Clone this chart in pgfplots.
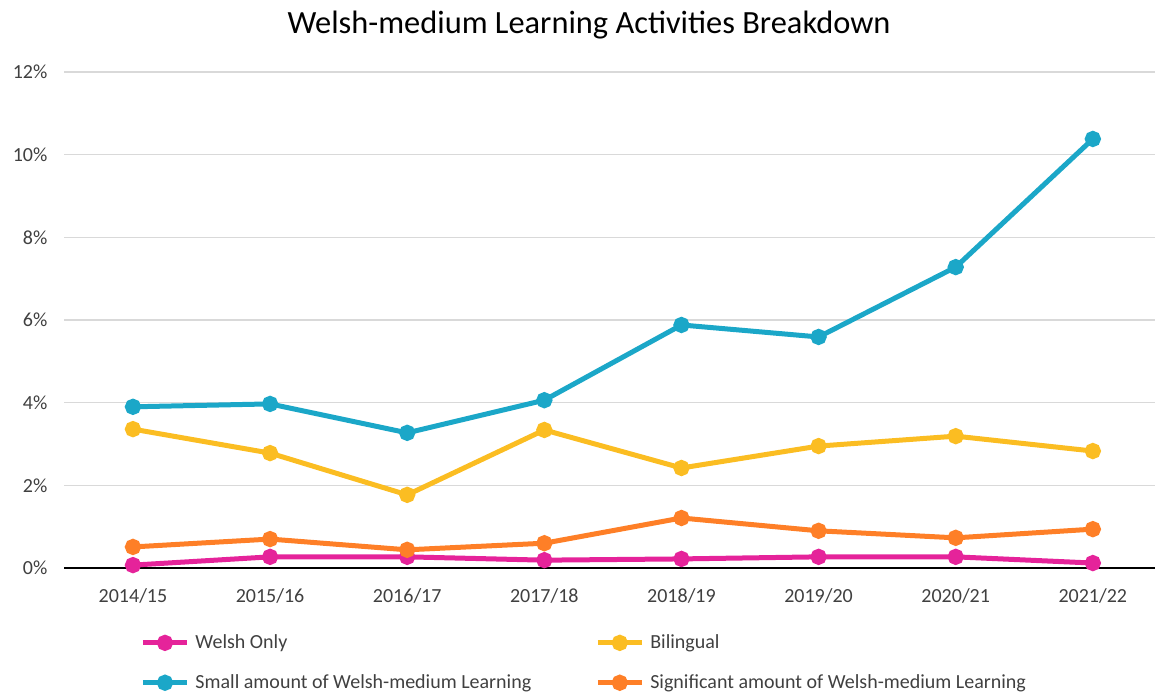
\documentclass[border=0pt]{standalone}
\usepackage{pgfplots}
\pgfplotsset{compat=1.18}
\usepackage{fontspec}
\setmainfont{Carlito}
\definecolor{cmag}{HTML}{E5239A}
\definecolor{cblue}{HTML}{1BA7C8}
\definecolor{cyel}{HTML}{FBBD22}
\definecolor{cora}{HTML}{FE7F27}
\definecolor{gridgray}{HTML}{D9D9D9}
\definecolor{txt}{HTML}{404040}
\begin{document}
\begin{tikzpicture}
\useasboundingbox (0,0) rectangle (577.5pt,346.5pt);
\node[font=\fontsize{16.2}{18}\selectfont] at (294.5pt,334pt) {Welsh-medium Learning Activities Breakdown};
\begin{axis}[
  at={(32.2pt,62.5pt)}, anchor=south west,
  scale only axis, width=548.5pt, height=248pt,
  xmin=-0.5, xmax=7.5, ymin=0, ymax=12,
  xtick={0,...,7},
  xticklabels={2014/15,2015/16,2016/17,2017/18,2018/19,2019/20,2020/21,2021/22},
  ytick={0,2,...,12},
  yticklabel={\pgfmathprintnumber{\tick}\%},
  /pgf/number format/assume math mode=true,
  tick label style={font=\fontsize{10}{12}\selectfont, text=txt},
  xticklabel style={yshift=-7pt},
  yticklabel style={xshift=-5pt},
  major tick length=0pt,
  ymajorgrids, grid style={gridgray, line width=0.75pt},
  axis x line*=bottom, axis y line*=left,
  y axis line style={draw=none},
  x axis line style={black, line width=0.8pt},
  every axis plot/.append style={line width=2.5pt, mark=*, mark size=2.8pt},
  legend style={at={(0.069,-0.125)}, anchor=north west, draw=none, fill=none,
    legend columns=2, font=\fontsize{10}{12}\selectfont, text=txt,
    row sep=7.5pt, inner sep=0pt,
    /tikz/every odd column/.append style={column sep=1pt},
    /tikz/every even column/.append style={column sep=30pt}},
  legend cell align=left,
  legend image code/.code={\draw[mark repeat=2,mark phase=2] plot coordinates {(0pt,0pt) (11pt,0pt) (22pt,0pt)};},
]
\addplot[cmag, mark options={fill=cmag, draw=none}] coordinates {(0,0.07) (1,0.27) (2,0.27) (3,0.19) (4,0.22) (5,0.27) (6,0.27) (7,0.12)};
\addlegendentry{Welsh Only}
\addplot[cyel, mark options={fill=cyel, draw=none}] coordinates {(0,3.36) (1,2.78) (2,1.77) (3,3.34) (4,2.42) (5,2.95) (6,3.19) (7,2.83)};
\addlegendentry{Bilingual}
\addplot[cblue, mark options={fill=cblue, draw=none}] coordinates {(0,3.90) (1,3.97) (2,3.27) (3,4.06) (4,5.88) (5,5.59) (6,7.28) (7,10.38)};
\addlegendentry{Small amount of Welsh-medium Learning}
\addplot[cora, mark options={fill=cora, draw=none}] coordinates {(0,0.51) (1,0.70) (2,0.44) (3,0.60) (4,1.21) (5,0.90) (6,0.73) (7,0.94)};
\addlegendentry{Significant amount of Welsh-medium Learning}
\end{axis}
\end{tikzpicture}
\end{document}
